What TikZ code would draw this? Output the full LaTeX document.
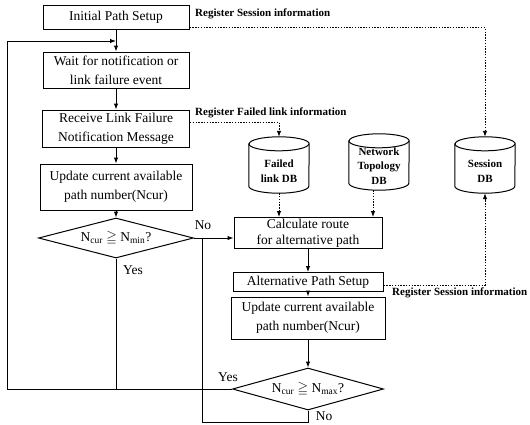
\documentclass[tikz,border=0pt]{standalone}
\usepackage{fontspec}
\setmainfont{Liberation Serif}
\usepackage{amssymb}
\usetikzlibrary{arrows.meta,shapes.geometric}
\tikzset{
  line/.style={line width=1pt},
  arr/.style={line, -{Latex[length=6pt,width=4.5pt]}},
  dotarr/.style={line width=0.9pt, dash pattern=on 1.4pt off 1.4pt, -{Latex[length=6pt,width=4.5pt]}},
  box/.style={draw, line, align=center, inner sep=0pt, font=\fontsize{13.5}{19}\selectfont},
  dec/.style={draw, line, diamond, inner sep=0pt, aspect=3.8, font=\fontsize{13.5}{16}\selectfont},
  db/.style={inner sep=0pt, minimum width=60pt, minimum height=56pt},
  dbtext/.style={inner sep=0pt, align=center, font=\bfseries\fontsize{11}{14.5}\selectfont},
  lbl/.style={inner sep=0pt, font=\bfseries\fontsize{11}{13}\selectfont},
  yn/.style={inner sep=0pt, font=\fontsize{13.5}{16}\selectfont}
}
\begin{document}
\begin{tikzpicture}[x=1pt,y=1pt]
\useasboundingbox[fill=white] (0,0) rectangle (530,-424);
% process boxes
\node[box, minimum width=146pt, minimum height=24pt] (init) at (116,-17) {Initial Path Setup};
\node[box, minimum width=146pt, minimum height=36pt] (wait) at (116,-70) {Wait for notification or\\link failure event};
\node[box, minimum width=147pt, minimum height=37pt] (recv) at (116,-128.5) {Receive Link Failure\\Notification Message};
\node[box, minimum width=152pt, minimum height=46pt] (upd1) at (116,-187) {Update current available\\path number(Ncur)};
\node[dec, minimum width=155pt, minimum height=40pt] (dia1) at (116,-238) {N\textsubscript{cur} $\geqq$ N\textsubscript{min}?};
\node[box, minimum width=148pt, minimum height=31pt, font=\fontsize{13.5}{15.5}\selectfont] (calc) at (308,-233) {Calculate route\\for alternative path};
\node[box, minimum width=150pt, minimum height=19pt] (alt) at (308,-282) {Alternative Path Setup};
\node[box, minimum width=154pt, minimum height=42pt] (upd2) at (308,-318) {Update current available\\path number(Ncur)};
\node[dec, minimum width=151pt, minimum height=42pt] (dia2) at (308,-389) {N\textsubscript{cur} $\geqq$ N\textsubscript{max}?};
% databases
\node[db] (fdb) at (279,-165) {};
\node[db] (ntdb) at (379,-162) {};
\node[db] (sdb) at (485,-165) {};
\foreach \n in {fdb,ntdb,sdb}{
  \draw[line] ([yshift=-7pt]\n.north west) -- ([yshift=7pt]\n.south west)
     arc[start angle=180, end angle=360, x radius=30pt, y radius=7pt]
     -- ([yshift=-7pt]\n.north east)
     arc[start angle=0, end angle=180, x radius=30pt, y radius=7pt] -- cycle;
  \draw[line] ([yshift=-7pt]\n.north west) arc[start angle=180, end angle=360, x radius=30pt, y radius=7pt];
}
\node[dbtext] (fdbt) at ([yshift=-6pt]fdb.center) {Failed\\link DB};
\node[dbtext] (ntdbt) at ([yshift=-4pt]ntdb.center) {Network\\Topology\\DB};
\node[dbtext] (sdbt) at ([yshift=-6pt]sdb.center) {Session\\DB};
% coordinates for loop lines
\coordinate (lt) at (7,-41);
\coordinate (lj) at (116,-41);
\coordinate (nj) at (202,-238);
\coordinate (nb) at (202,-422);
% main flow
\draw[arr] (init) -- (wait);
\draw[arr] (wait.south) -- (wait.south |- recv.north);
\draw[arr] (recv.south -| upd1.north) -- (upd1.north);
\draw[arr] (upd1.south) -- (dia1.north);
\draw[arr] (dia1.east) -- (dia1.east -| calc.west);
\draw[arr] (calc.south) -- (alt.north);
\draw[arr] (alt.south) -- (upd2.north);
\draw[arr] (upd2.south) -- (dia2.north);
\draw[line] (dia1.south) -- (dia1.south |- dia2.west);
\draw[arr] (dia2.west) -| (lt) -- (lj);
\draw[line] (dia2.south) |- (nb) -- (nj);
% dotted information flows
\draw[dotarr] ([yshift=2pt]init.south east) -| (sdb.north);
\draw[dotarr] ([yshift=6.5pt]recv.east) -| (fdb.north);
\draw[dotarr] (fdb.south) -- (fdb.south |- calc.north);
\draw[dotarr] ([xshift=-6pt]ntdb.south) -- ([xshift=-6pt]ntdb.south |- calc.north);
\draw[dotarr] ([yshift=-3pt]alt.east) -| (sdb.south);
% labels
\node[lbl, anchor=west] (l1) at (195,-14) {Register Session information};
\node[lbl, anchor=west] (l2) at (195,-113) {Register Failed link information};
\node[lbl, anchor=west] (l3) at (392,-293) {Register Session information};
\node[yn] (no1) at (203,-225) {No};
\node[yn] (yes1) at (133,-270) {Yes};
\node[yn] (yes2) at (228,-377) {Yes};
\node[yn] (no2) at (324,-416) {No};
\end{tikzpicture}
\end{document}
